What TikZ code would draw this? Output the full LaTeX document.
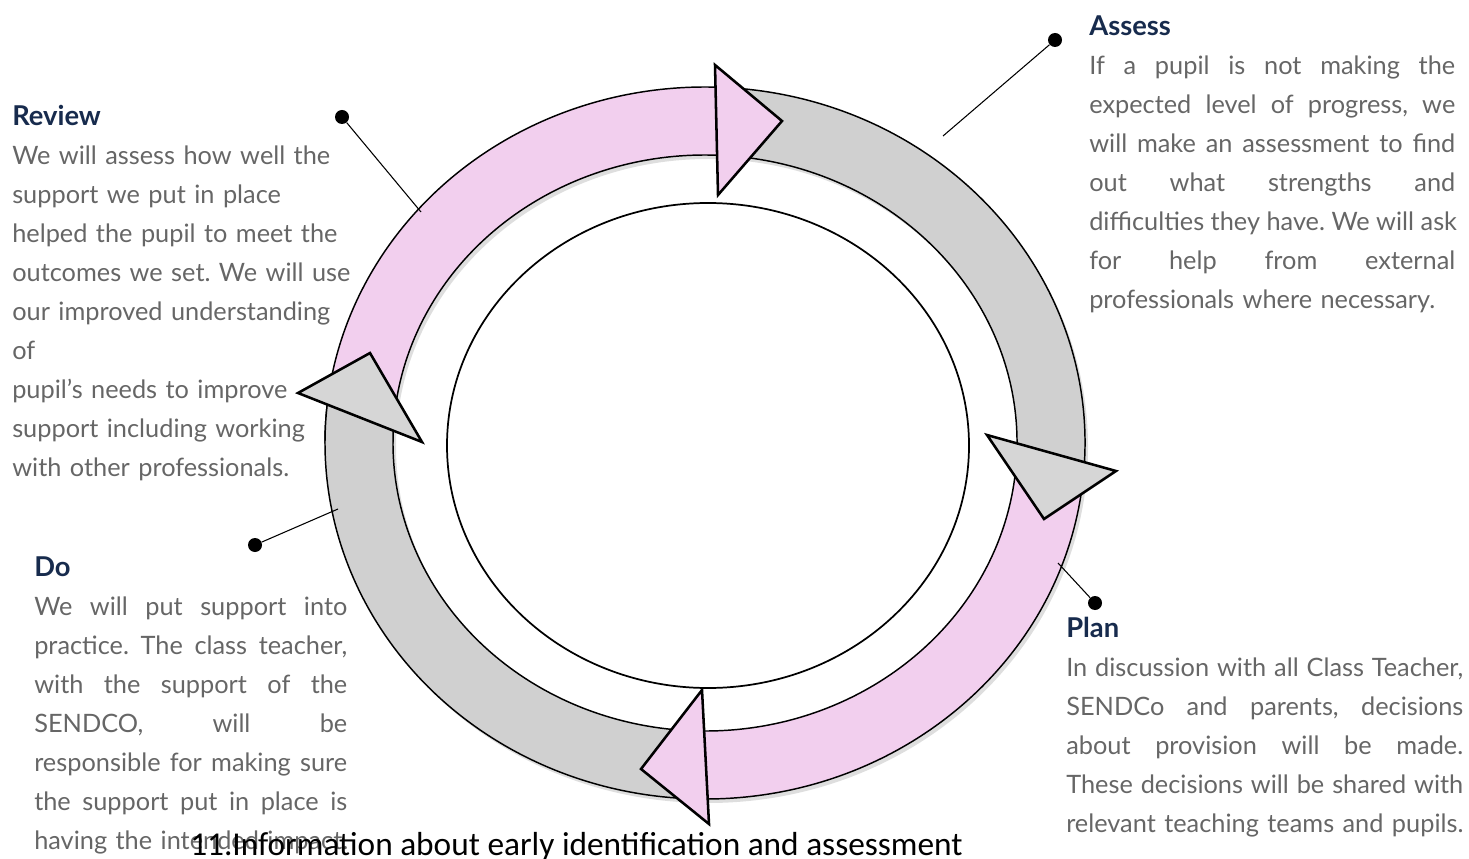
\documentclass[tikz,border=0pt]{standalone}
\usepackage{fontspec}
\setmainfont{Lato}
\newfontfamily\titlefont{Carlito}
\usetikzlibrary{positioning,calc}

\definecolor{ringpink}{HTML}{F2CFEE}
\definecolor{ringgray}{HTML}{D0D0D0}
\definecolor{tipgray}{HTML}{D6D6D6}
\definecolor{bodygray}{HTML}{666666}
\definecolor{headnavy}{HTML}{172B4D}

% a justified line of fixed width
\newcommand{\fullline}[1]{\makebox[\hsize][s]{\spaceskip=\fontdimen2\font plus 1fil\relax #1}}
\newcommand{\stagehead}[1]{{\fontsize{20.5}{29.25}\selectfont\bfseries\color{headnavy}#1}}

\tikzset{
  band/.style={draw=black, line width=1.1pt},
  tiphead/.style={draw=black, line width=1.9pt, line join=miter},
  leader/.style={draw=black, line width=0.8pt},
  dot/.style={circle, fill=black, inner sep=0pt, minimum size=10.5pt},
  stage/.style={anchor=base west, inner sep=0pt, align=left, text=bodygray,
    font=\fontsize{19}{29.25}\selectfont\frenchspacing},
}

\begin{document}
\begin{tikzpicture}[x=0.75pt,y=0.75pt]
\useasboundingbox (0,0) rectangle (1469,858);

% Centre of the ring and its radii
\coordinate (O) at (705,415);
\def\rxOut{380}
\def\ryOut{356}
\def\rxIn{312}
\def\ryIn{288}

% Soft shadow of the ring
\fill[black, opacity=0.13, even odd rule]
  ($(O)+(3,-4)$) ellipse[x radius=\rxOut, y radius=\ryOut]
  ($(O)+(3,-4)$) ellipse[x radius=\rxIn, y radius=\ryIn];

% Bands of the four arrows (clockwise)
\foreach \from/\to/\col in {180/87/ringpink, 84/-6/ringgray, -4/-92/ringpink, 269/173/ringgray}{
  \draw[band, fill=\col] ($(O)+({\rxOut*cos(\from)},{\ryOut*sin(\from)})$)
    arc[start angle=\from, end angle=\to, x radius=\rxOut, y radius=\ryOut]
    -- ($(O)+({\rxIn*cos(\to)},{\ryIn*sin(\to)})$)
    arc[start angle=\to, end angle=\from, x radius=\rxIn, y radius=\ryIn]
    -- cycle;
}

% Arrow heads
\draw[tiphead, fill=ringpink] (715,793) -- (782,737) -- (718,663) -- cycle;
\draw[tiphead, fill=tipgray] (987,423) -- (1116,387) -- (1044,339) -- cycle;
\draw[tiphead, fill=ringpink] (702,168) -- (641,89) -- (709,34) -- cycle;
\draw[tiphead, fill=tipgray] (370,505) -- (298,465) -- (422,416) -- cycle;

% Inner disc
\draw[line width=1.3pt, fill=white] (708,412.5) ellipse[x radius=261, y radius=242.5];

% Leader lines
\node[dot] (assessdot) at (1055,818) {};
\node[dot] (reviewdot) at (342,741) {};
\node[dot] (dodot) at (255,313) {};
\node[dot] (plandot) at (1095,255) {};
\coordinate (assessring) at (943,722);
\coordinate (reviewring) at (421,646);
\coordinate (doring) at (338,349);
\coordinate (planring) at (1058,295);
\draw[leader] (assessdot) -- (assessring);
\draw[leader] (reviewdot) -- (reviewring);
\draw[leader] (dodot) -- (doring);
\draw[leader] (plandot) -- (planring);

% Stage texts
\node[stage, text width=270pt] (review) at (12,732) {\stagehead{Review}\\
We will assess how well the\\
support we put in place\\
helped the pupil to meet the\\
outcomes we set. We will use\\
our improved understanding\\
of\\
pupil’s needs to improve\\
support including working\\
with other professionals.};

\node[stage, text width=274.5pt] (assess) at (1089,822) {\stagehead{Assess}\\
\fullline{If a pupil is not making the}\\
\fullline{expected level of progress, we}\\
\fullline{will make an assessment to find}\\
\fullline{out what strengths and}\\
\fullline{difficulties they have. We will ask}\\
\fullline{for help from external}\\
\mbox{professionals where necessary.}};

\node[stage, text width=234.75pt] (do) at (34,282) {\stagehead{Do}\\
\fullline{We will put support into}\\
\fullline{practice. The class teacher,}\\
\fullline{with the support of the}\\
\fullline{SENDCO, will be}\\
\fullline{responsible for making sure}\\
\fullline{the support put in place is}\\
\mbox{having the intended impact.}};

\node[stage, text width=297.75pt] (plan) at (1066,221) {\stagehead{Plan}\\
\fullline{In discussion with all Class Teacher,}\\
\fullline{SENDCo and parents, decisions}\\
\fullline{about provision will be made.}\\
\fullline{These decisions will be shared with}\\
\mbox{relevant teaching teams and pupils.}};

% Caption
\node[anchor=base west, inner sep=0pt, font=\titlefont\fontsize{25}{30}\selectfont] (title) at (190,3)
  {11.Information about early identification and assessment};

\end{tikzpicture}
\end{document}
